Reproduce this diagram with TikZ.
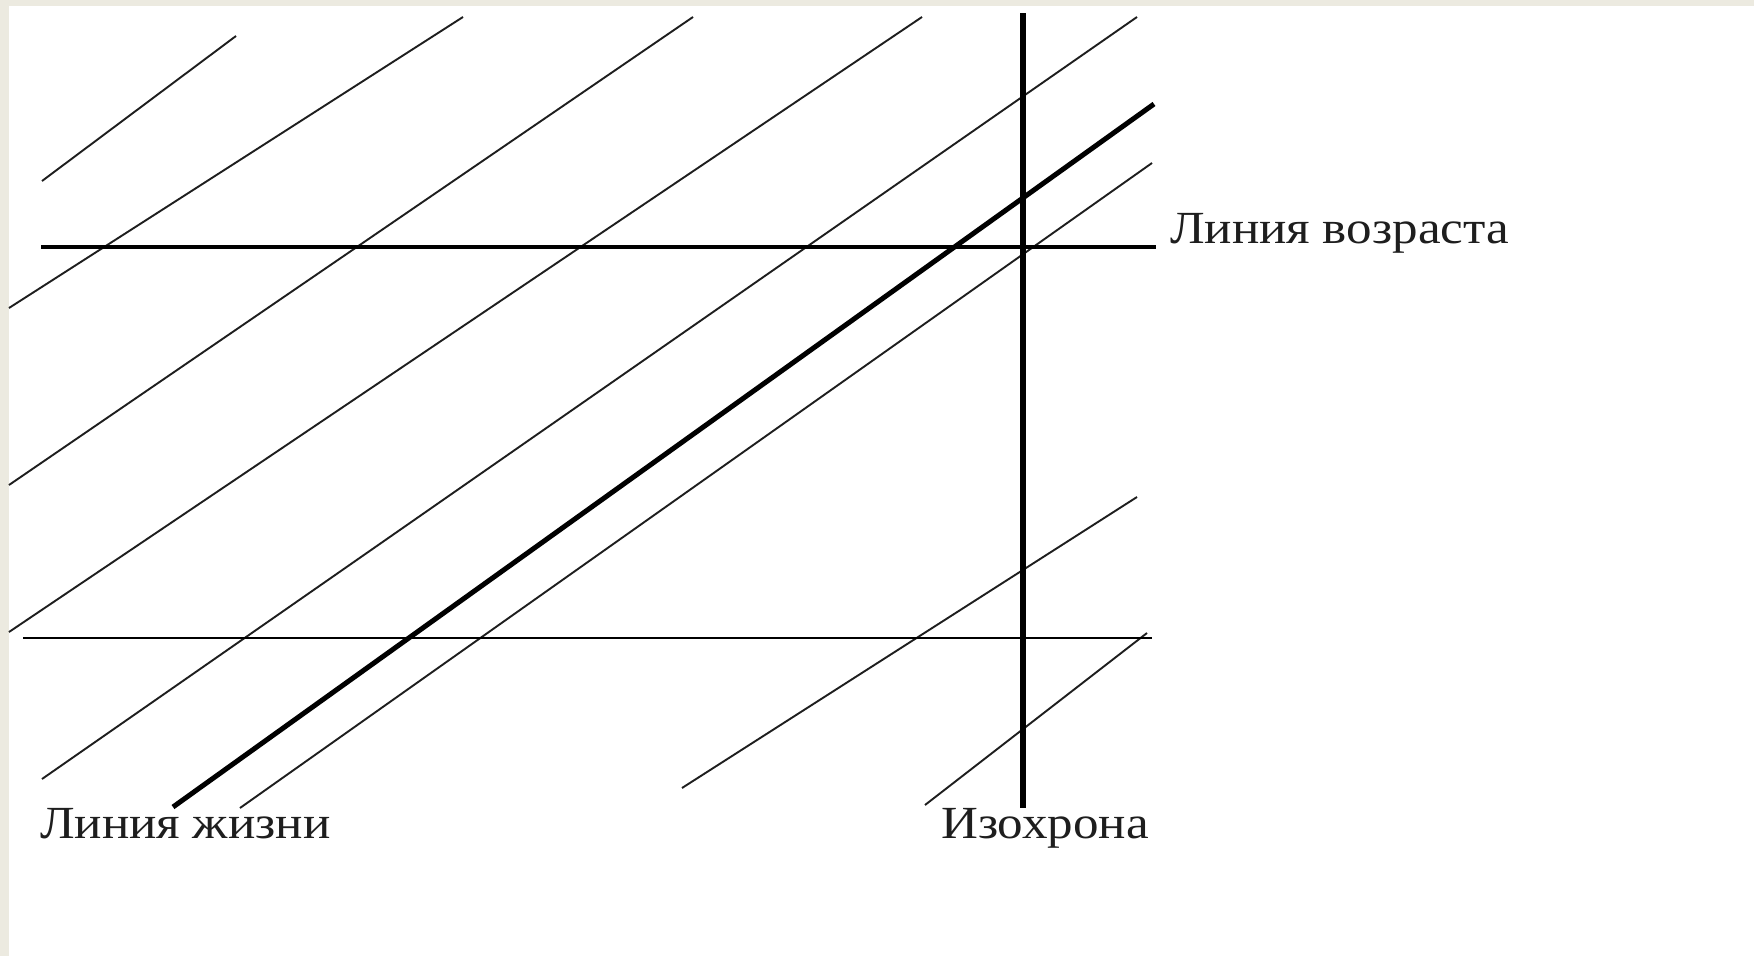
\documentclass[tikz,border=0pt]{standalone}
\usepackage{fontspec}
\setmainfont[FakeStretch=1.11]{Liberation Serif}
\definecolor{framebg}{HTML}{ECEAE0}
\definecolor{ink}{HTML}{1E1E1E}
\tikzset{
  thinline/.style={draw=ink, line width=1.9pt},
  thickdiag/.style={draw=black, line width=5pt},
  agehline/.style={draw=black, line width=4pt},
  lowhline/.style={draw=black, line width=2.5pt},
  isoline/.style={draw=black, line width=5.5pt},
  lbl/.style={anchor=base west, inner sep=0pt, text=ink, font=\fontsize{46pt}{50pt}\selectfont}
}
\begin{document}
\begin{tikzpicture}[x=1pt,y=-1pt]
\useasboundingbox (0,0) rectangle (1754,956);
\fill[white] (0,0) rectangle (1754,956);
\fill[framebg] (0,0) rectangle (1754,6);
\fill[framebg] (0,0) rectangle (9,956);

% thin diagonal lines
\coordinate (a1) at (42,181);   \coordinate (b1) at (236,36);
\coordinate (a2) at (9,308);    \coordinate (b2) at (463,17);
\coordinate (a3) at (9,485);    \coordinate (b3) at (693,17);
\coordinate (a4) at (9,632);    \coordinate (b4) at (922,17);
\coordinate (a5) at (42,779);   \coordinate (b5) at (1137,17);
\coordinate (a6) at (240,808);  \coordinate (b6) at (1152,163);
\coordinate (a7) at (682,788);  \coordinate (b7) at (1137,497);
\coordinate (a8) at (925,805);  \coordinate (b8) at (1147,633);
\foreach \i in {1,...,8} { \draw[thinline] (a\i) -- (b\i); }

% horizontal lines
\coordinate (ageL) at (41,247);  \coordinate (ageR) at (1156,247);
\coordinate (lowL) at (23,638);  \coordinate (lowR) at (1152,638);
\draw[agehline] (ageL) -- (ageR);
\draw[lowhline] (lowL) -- (lowR);

% isochrone
\coordinate (isoT) at (1023,13); \coordinate (isoB) at (1023,808);
\draw[isoline] (isoT) -- (isoB);

% life line
\coordinate (lifeA) at (173,807); \coordinate (lifeB) at (1154,104);
\draw[thickdiag] (lifeA) -- (lifeB);

% labels
\node[lbl] (life) at (40,838) {Линия жизни};
\node[lbl] (iso) at (941,838) {Изохрона};
\node[lbl] (age) at (1170,243) {Линия возраста};
\end{tikzpicture}
\end{document}
